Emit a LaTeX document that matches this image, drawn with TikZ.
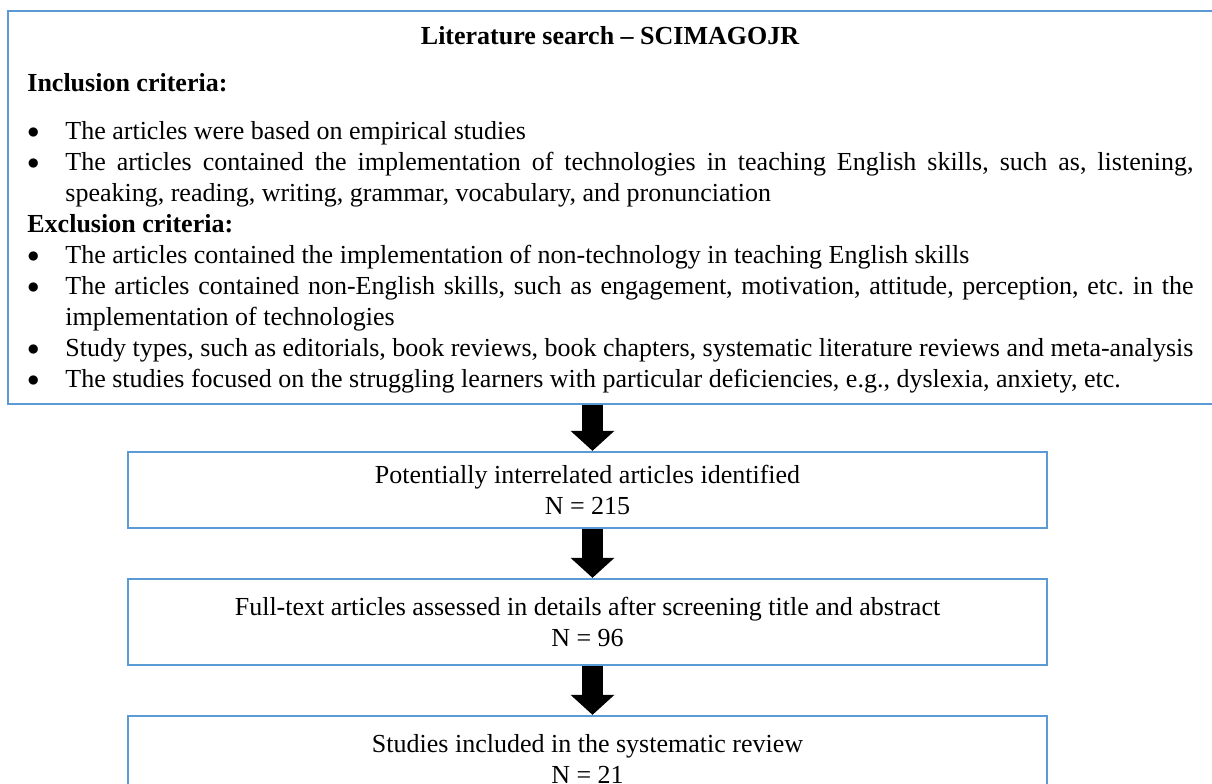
\documentclass[tikz,border=0pt]{standalone}
\usepackage{fontspec}
\setmainfont{Liberation Serif}
\usepackage{enumitem}
\usetikzlibrary{arrows.meta}
\definecolor{boxblue}{RGB}{91,155,213}
\newcommand{\bodysize}{\fontsize{13pt}{15.5pt}\selectfont}
\setlist[itemize]{label=\raisebox{0.05ex}{$\bullet$}, leftmargin=19pt, labelwidth=19pt, labelsep=0pt, align=left,
    itemsep=0pt, topsep=0pt, parsep=0pt, partopsep=0pt}
\tikzset{
    outline/.style={draw=boxblue, line width=1.2pt, inner sep=0pt}, % 蓝色边框
    stepbox/.style={outline, minimum width=459.5pt, align=center}, % 流程框
    flow/.style={line width=10.5pt, -{Triangle[width=22pt, length=10pt, line width=0pt]}} % 粗箭头
}

\begin{document}
\begin{tikzpicture}[x=0.5pt, y=-0.5pt, font=\bodysize]
    \useasboundingbox (0,0) rectangle (1212,783);

    \node[outline, minimum width=610pt, minimum height=196.5pt, anchor=north west] (search) at (7,10) {};
    \node[font=\bodysize\bfseries] (title) at (610,36) {Literature search – SCIMAGOJR};
    \node[anchor=north west, text width=583pt, align=justify, inner sep=0pt] (criteria) at (27,73) {%
        \setlength{\parindent}{0pt}\frenchspacing
        \textbf{Inclusion criteria:}\par\vspace{8.5pt}
        \begin{itemize}
            \item The articles were based on empirical studies
            \item The articles contained the implementation of technologies in teaching English skills, such as, listening,\linebreak
            speaking, reading, writing, grammar, vocabulary, and pronunciation
        \end{itemize}
        \textbf{Exclusion criteria:}
        \begin{itemize}
            \item The articles contained the implementation of non-technology in teaching English skills
            \item The articles contained non-English skills, such as engagement, motivation, attitude, perception, etc. in the\linebreak
            implementation of technologies
            \item Study types, such as editorials, book reviews, book chapters, systematic literature reviews and meta-analysis
            \item The studies focused on the struggling learners with particular deficiencies, e.g., dyslexia, anxiety, etc.
        \end{itemize}};

    \node[stepbox, minimum height=38pt] (found) at (587.5,490) {Potentially interrelated articles identified\\N = 215};
    \node[stepbox, minimum height=43pt] (assessed) at (587.5,622) {Full-text articles assessed in details after screening title and abstract\\N = 96};
    \node[stepbox, minimum height=43pt] (included) at (587.5,759) {Studies included in the systematic review\\N = 21};

    \foreach \from/\to in {search/found, found/assessed, assessed/included}
        \draw[flow] ([xshift=2.5pt]\to.north |- \from.south) -- ([xshift=2.5pt]\to.north);
\end{tikzpicture}
\end{document}
